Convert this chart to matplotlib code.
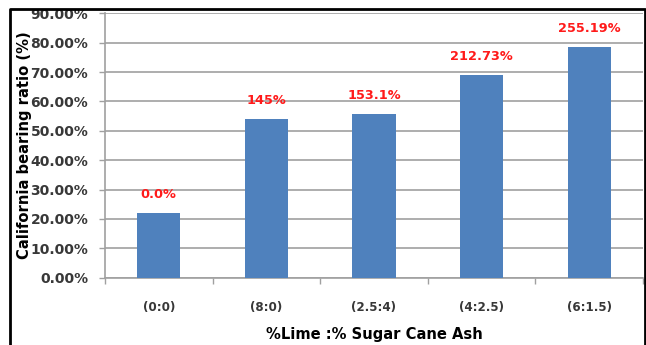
import numpy as np
import matplotlib.pyplot as plt
from matplotlib.lines import Line2D
from matplotlib.ticker import PercentFormatter

# CBR for each lime : sugar cane ash mix, and the increase over the untreated soil
mixes = ['(0:0)', '(8:0)', '(2.5:4)', '(4:2.5)', '(6:1.5)']
cbr = [22.0, 53.9, 55.7, 69.0, 78.4]
increase = ['0.0%', '145%', '153.1%', '212.73%', '255.19%']

plt.rcParams['font.family'] = 'DejaVu Sans'
plt.rcParams['font.weight'] = 'bold'

fig = plt.figure(figsize=(6.46, 3.45), dpi=100)
ax = fig.add_axes([105/646, 67.3/345, 538/646, 264.4/345])

x = np.arange(len(mixes))
ax.bar(x, cbr, width=0.4, color='#4F81BD', zorder=3)

for xi, v, s in zip(x, cbr, increase):
    ax.annotate(s, (xi, v), xytext=(0, 13.3), textcoords='offset points',
                ha='center', va='center', color='#ff1a1a', fontsize=9.3,
                fontweight='bold')

ax.set_xlim(-0.5, len(mixes) - 0.5)
ax.set_ylim(0, 90)
ax.set_yticks(np.arange(0, 91, 10))
ax.yaxis.set_major_formatter(PercentFormatter(decimals=2))
ax.grid(axis='y', color='#a0a0a0', linewidth=1.2, zorder=0)

ax.set_xticks(x)
ax.set_xticklabels(mixes)
ax.set_xticks(np.arange(-0.5, len(mixes)), minor=True)
ax.tick_params(axis='x', which='major', length=0, pad=17, labelsize=8.6,
               labelcolor='#383838')
ax.tick_params(axis='x', which='minor', length=4, color='#a0a0a0', width=1)
ax.tick_params(axis='y', length=4, color='#a0a0a0', width=1, pad=8,
               labelsize=10, labelcolor='#383838')

for side in ['top', 'right']:
    ax.spines[side].set_visible(False)
for side in ['left', 'bottom']:
    ax.spines[side].set_color('#a0a0a0')
    ax.spines[side].set_linewidth(1.2)

ax.set_xlabel('%Lime :% Sugar Cane Ash', fontsize=10.6, fontweight='bold',
              labelpad=9)
ax.set_ylabel('California bearing ratio (%)', fontsize=10.6, fontweight='bold')
ax.yaxis.set_label_coords(-0.136, 0.5)

# black frame on top, left and right
fx0, fx1, fy1 = 10/646, 644.5/646, 1 - 9/345
fig.add_artist(Line2D([fx0, fx0, fx1, fx1], [0, fy1, fy1, 0],
                      color='black', linewidth=2, transform=fig.transFigure))

fig.savefig('out.png', dpi=100)
